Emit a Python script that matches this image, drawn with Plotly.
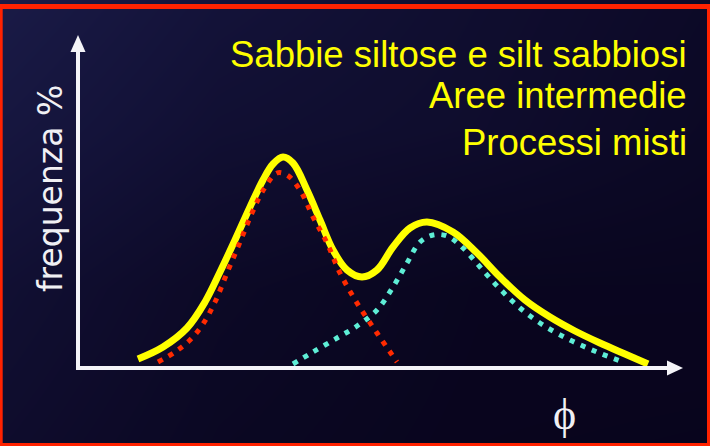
import plotly.graph_objects as go

W, H = 710, 446

# Grain-size curves (phi on x, frequency % on y)
total_phi = [6.0, 8.5, 10.9, 12.7, 14.2, 15.7, 17.2, 18.5, 19.5, 20.5, 21.5, 22.9, 24.2,
             25.5, 26.9, 28.4, 29.9, 31.5, 33.2, 34.9, 37.5, 39.9, 42.2, 44.7, 47.2,
             49.7, 52.2, 54.7, 57.0]
total_freq = [0.9, 2.1, 4.0, 6.6, 9.6, 12.8, 16.1, 18.8, 20.4, 21.1, 20.5, 17.8, 14.8,
              11.8, 9.8, 9.1, 9.8, 12.1, 14.0, 14.6, 13.6, 11.5, 9.1, 6.8, 5.1,
              3.7, 2.5, 1.4, 0.4]

sand_phi = [8.0, 9.7, 11.2, 12.5, 13.7, 14.9, 16.2, 17.4, 18.6, 19.9, 20.9, 22.2, 23.5,
            24.9, 26.2, 27.9, 29.9, 31.9]
sand_freq = [0.6, 1.6, 2.8, 4.4, 6.6, 9.5, 12.6, 15.5, 17.9, 19.5, 19.3, 17.8, 15.1,
             12.5, 9.5, 6.5, 3.5, 0.6]

silt_phi = [21.5, 23.5, 25.9, 27.9, 29.9, 31.5, 32.9, 34.2, 35.5, 36.9, 38.5, 40.2, 42.2,
            44.2, 46.5, 49.2, 51.9, 54.5]
silt_freq = [0.4, 1.6, 3.0, 4.2, 5.8, 8.1, 10.5, 12.6, 13.3, 13.2, 12.0, 10.1, 7.9,
             6.0, 4.3, 2.8, 1.6, 0.6]

title_lines = ["Sabbie siltose e silt sabbiosi", "Aree intermedie", "Processi misti"]
y_label = "frequenza %"
x_label = "ϕ"

X_RANGE = [-7.8, 63.2]
Y_RANGE = [-7.8, 36.8]

fig = go.Figure()

# navy backdrop, lighter towards the upper left
fig.add_trace(go.Heatmap(
    x=[-12, 14, 40, 68], y=[-12, 8, 24, 40],
    z=[[0.30, 0.10, 0.02, 0.00],
       [0.45, 0.18, 0.05, 0.05],
       [0.70, 0.40, 0.30, 0.12],
       [0.90, 0.55, 0.35, 0.18]],
    zsmooth="best", showscale=False, hoverinfo="skip",
    colorscale=[[0, "#08041c"], [0.5, "#131238"], [1, "#1e2050"]],
    zmin=0, zmax=1,
))

fig.add_trace(go.Scatter(
    x=total_phi, y=total_freq, mode="lines",
    line=dict(color="#ffff00", width=7, shape="spline", smoothing=1),
    hoverinfo="skip",
))
fig.add_trace(go.Scatter(
    x=sand_phi, y=sand_freq, mode="lines",
    line=dict(color="#ff2a00", width=5, dash="5px,7px", shape="spline", smoothing=1),
    hoverinfo="skip",
))
fig.add_trace(go.Scatter(
    x=silt_phi, y=silt_freq, mode="lines",
    line=dict(color="#5eeed6", width=5, dash="5px,7px", shape="spline", smoothing=1),
    hoverinfo="skip",
))

axis_col = "#f4f4f8"
shapes = [
    # axes with arrowheads
    dict(type="line", xref="x", yref="y", x0=-0.2, y0=0, x1=59.2, y1=0,
         line=dict(color=axis_col, width=4)),
    dict(type="path", xref="x", yref="y", path="M 58.9,-0.75 L 60.5,0 L 58.9,0.75 Z",
         fillcolor=axis_col, line=dict(width=0)),
    dict(type="line", xref="x", yref="y", x0=0, y0=-0.2, x1=0, y1=31.8,
         line=dict(color=axis_col, width=4)),
    dict(type="path", xref="x", yref="y", path="M -0.75,31.6 L 0,33.3 L 0.75,31.6 Z",
         fillcolor=axis_col, line=dict(width=0)),
]

# red frame
red = "#ff2200"
def px_rect(x0, y0, x1, y1):
    return dict(type="rect", xref="paper", yref="paper",
                x0=x0 / W, x1=x1 / W, y0=1 - y1 / H, y1=1 - y0 / H,
                fillcolor=red, line=dict(width=0), layer="above")

shapes += [px_rect(0, 4, 710, 9), px_rect(0, 4, 2.7, 446),
           px_rect(707, 4, 710, 446), px_rect(0, 443, 710, 446)]

annotations = []
for text, yc in zip(title_lines, [54, 96, 143]):
    annotations.append(dict(
        text=text, xref="paper", yref="paper", x=689 / W, y=1 - yc / H,
        xanchor="right", yanchor="middle", showarrow=False,
        font=dict(family="Liberation Sans", size=36.5, color="#ffff00"),
    ))
annotations.append(dict(
    text=y_label, xref="paper", yref="paper", x=50 / W, y=1 - 189 / H,
    xanchor="center", yanchor="middle", showarrow=False, textangle=-90,
    font=dict(family="DejaVu Sans", size=33, color="#f0f0f4"),
))
annotations.append(dict(
    text=x_label, xref="paper", yref="paper", x=564 / W, y=1 - 414 / H,
    xanchor="center", yanchor="middle", showarrow=False,
    font=dict(family="Liberation Serif", size=44, color="#f0f0f4"),
))

fig.update_layout(
    width=W, height=H, autosize=False,
    margin=dict(l=0, r=0, t=0, b=0),
    paper_bgcolor="#100e30", plot_bgcolor="#100e30",
    showlegend=False,
    xaxis=dict(range=X_RANGE, visible=False, fixedrange=True),
    yaxis=dict(range=Y_RANGE, visible=False, fixedrange=True),
    shapes=shapes, annotations=annotations,
)

fig.write_html("out.html")
